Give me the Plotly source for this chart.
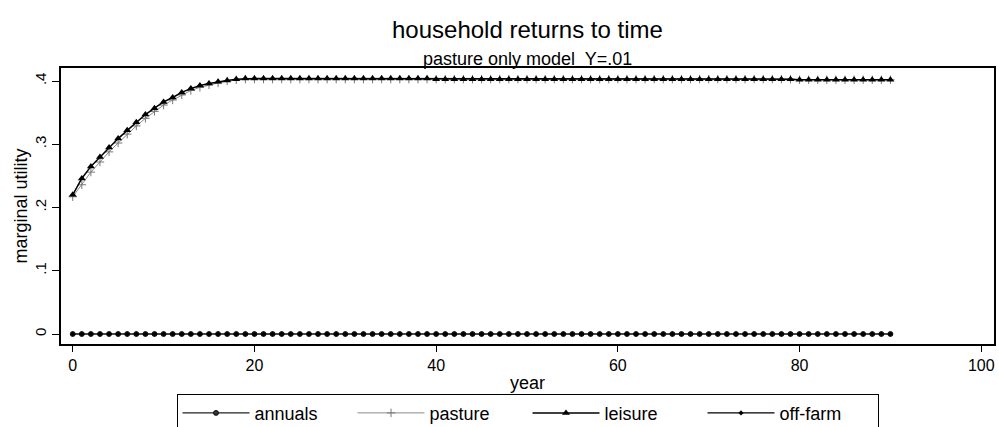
import plotly.graph_objects as go

years = list(range(0, 91))

leisure = [
    0.220, 0.246, 0.265, 0.280, 0.295, 0.309, 0.322, 0.335, 0.347, 0.357,
    0.367, 0.374, 0.382, 0.388, 0.393, 0.396, 0.399, 0.401, 0.403, 0.404,
    0.404, 0.404, 0.404, 0.404, 0.404, 0.404, 0.404, 0.404, 0.404, 0.404,
    0.404, 0.404, 0.404, 0.404, 0.404, 0.404, 0.404, 0.404, 0.404, 0.404,
    0.403, 0.403, 0.403, 0.403, 0.403, 0.403, 0.403, 0.403, 0.403, 0.403,
    0.403, 0.403, 0.403, 0.403, 0.403, 0.403, 0.403, 0.403, 0.403, 0.403,
    0.403, 0.403, 0.403, 0.403, 0.403, 0.403, 0.403, 0.403, 0.403, 0.403,
    0.403, 0.403, 0.403, 0.403, 0.403, 0.403, 0.403, 0.403, 0.403, 0.403,
    0.402, 0.402, 0.402, 0.402, 0.402, 0.402, 0.402, 0.402, 0.402, 0.402,
    0.402,
]

pasture = [
    0.217, 0.236, 0.256, 0.272, 0.288, 0.302, 0.316, 0.329, 0.341, 0.352,
    0.362, 0.370, 0.378, 0.385, 0.390, 0.394, 0.397, 0.400, 0.402, 0.403,
    0.403, 0.403, 0.403, 0.403, 0.403, 0.403, 0.403, 0.403, 0.403, 0.403,
    0.403, 0.403, 0.403, 0.403, 0.403, 0.403, 0.403, 0.403, 0.403, 0.403,
    0.403, 0.403, 0.403, 0.403, 0.403, 0.403, 0.403, 0.403, 0.403, 0.403,
    0.403, 0.403, 0.403, 0.403, 0.403, 0.403, 0.403, 0.403, 0.403, 0.403,
    0.403, 0.403, 0.403, 0.403, 0.403, 0.403, 0.403, 0.403, 0.403, 0.403,
    0.403, 0.403, 0.403, 0.403, 0.403, 0.403, 0.403, 0.403, 0.403, 0.403,
    0.402, 0.402, 0.402, 0.402, 0.402, 0.402, 0.402, 0.402, 0.402, 0.402,
    0.402,
]

annuals = [0.0] * 91
off_farm = [0.0] * 91

y_ticks = [0, 0.1, 0.2, 0.3, 0.4]
y_tick_labels = ["0", ".1", ".2", ".3", ".4"]
x_ticks = [0, 20, 40, 60, 80, 100]


def main():

    fig = go.Figure()

    fig.add_trace(go.Scatter(x=years, y=annuals, name="annuals", mode="lines+markers",
                             line=dict(color="#222222", width=1.2),
                             marker=dict(symbol="circle", size=5, color="#333333",
                                         line=dict(color="#000000", width=0.8))))
    fig.add_trace(go.Scatter(x=years, y=pasture, name="pasture", mode="lines+markers",
                             line=dict(color="#8a8a8a", width=1),
                             marker=dict(symbol="cross-thin", size=6,
                                         line=dict(color="#777777", width=1))))
    fig.add_trace(go.Scatter(x=years, y=leisure, name="leisure", mode="lines+markers",
                             line=dict(color="#000000", width=1.5),
                             marker=dict(symbol="triangle-up", size=7, color="#000000")))
    fig.add_trace(go.Scatter(x=years, y=off_farm, name="off-farm", mode="lines+markers",
                             line=dict(color="#000000", width=1.2),
                             marker=dict(symbol="diamond", size=4, color="#000000")))

    fig.update_xaxes(
        range=[-1.29, 101.4],
        tickvals=x_ticks,
        ticks="outside",
        ticklen=6,
        tickcolor="black",
        showline=True,
        linecolor="black",
        linewidth=1.5,
        mirror=True,
        showgrid=False,
        zeroline=False,
        automargin=False,
        title_text="year",
        title_standoff=3,
        tickfont_size=16,
        title_font_size=18,
    )

    fig.update_yaxes(
        range=[-0.0158, 0.4206],
        tickvals=y_ticks,
        ticktext=y_tick_labels,
        tickangle=-90,
        ticks="outside",
        ticklen=7,
        tickcolor="black",
        showline=True,
        linecolor="black",
        linewidth=1.5,
        mirror=True,
        showgrid=False,
        zeroline=False,
        automargin=False,
        title_text="marginal utility",
        title_standoff=0,
        tickfont_size=15,
        title_font_size=18,
    )

    fig.update_layout(
        width=999,
        height=427,
        font_family="Liberation Sans, Arial, sans-serif",
        font_color="black",
        paper_bgcolor="white",
        plot_bgcolor="white",
        margin=dict(l=61, r=5, t=68, b=83, autoexpand=False),
        legend=dict(
            orientation="h",
            x=0.5,
            xanchor="center",
            y=-0.18,
            yanchor="top",
            bordercolor="black",
            borderwidth=1,
            font_size=18,
            entrywidth=93,
            entrywidthmode="pixels",
            itemwidth=67,
        ),
        annotations=[
            dict(
                x=0.5,
                y=1.082,
                xref="paper",
                yref="paper",
                xanchor="center",
                yanchor="bottom",
                showarrow=False,
                text="household returns to time",
                font_size=24,
            ),
            dict(
                x=0.5,
                y=0.99,
                xref="paper",
                yref="paper",
                xanchor="center",
                yanchor="bottom",
                showarrow=False,
                text="pasture only model  Y=.01",
                font_size=18,
            ),
        ],
    )

    fig.write_html("out.html",
                   config={"displayModeBar": False},
                   post_script="document.body.style.margin = '0';")


if __name__ == "__main__":

    main()
